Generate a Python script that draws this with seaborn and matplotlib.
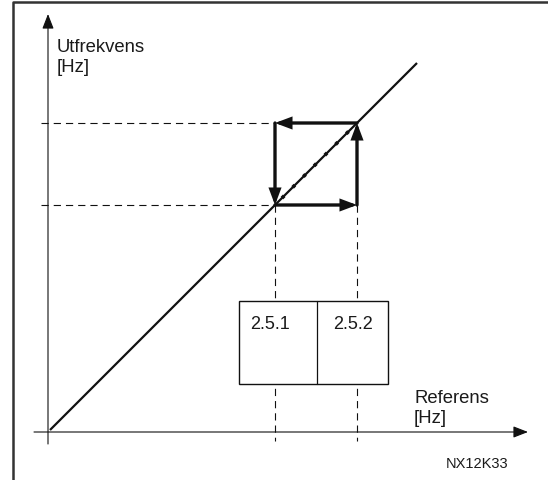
import matplotlib.pyplot as plt
from matplotlib.patches import Rectangle
import pandas as pd
import seaborn as sns

# characteristic: output frequency follows reference (data units, 1 unit = 10 px)
ref_hz = [0.2, 36.9]
out_hz = [0.2, 36.9]

# hysteresis limits (parameters 2.5.1 / 2.5.2)
hyst_low = 22.7
hyst_high = 30.9
param_labels = ["2.5.1", "2.5.2"]

x_label = ["Referens", "[Hz]"]
y_label = ["Utfrekvens", "[Hz]"]
fig_code = "NX12K33"

sns.set_theme(style="white")
plt.rcParams['font.family'] = ['Liberation Sans', 'DejaVu Sans']

fig = plt.figure(figsize=(5.48, 4.81), dpi=100)
ax = fig.add_axes([0, 0, 1, 1])

ink = '#111111'
txt = '#1a1a1a'

# frame round the picture (left and top only)
ax.plot([-3.5, -3.5, 50.0], [-4.8, 43.0, 43.0], color='#333333', lw=1.8,
        clip_on=False, solid_capstyle='butt')

# axes with arrows
ax.annotate('', xy=(0, 41.8), xytext=(0, -1.2),
            arrowprops=dict(arrowstyle='-|>,head_length=0.9,head_width=0.35',
                            mutation_scale=10, lw=0.8, color=ink,
                            shrinkA=0, shrinkB=0))
ax.annotate('', xy=(48.0, 0), xytext=(-1.4, 0),
            arrowprops=dict(arrowstyle='-|>,head_length=0.9,head_width=0.35',
                            mutation_scale=10, lw=0.8, color=ink,
                            shrinkA=0, shrinkB=0))

# dashed guides
dash = (0, (6.5, 4.5))
for v in [hyst_low, hyst_high]:
    ax.plot([-0.7, hyst_low], [v, v], color=ink, lw=0.8, linestyle=dash)
    ax.plot([v, v], [hyst_low, -0.9], color=ink, lw=0.8, linestyle=dash)

# parameter box
box_left, box_right, box_bot, box_top = 19.1, 34.0, 4.8, 13.1
box_mid = 26.9
ax.add_patch(Rectangle((box_left, box_bot), box_right - box_left, box_top - box_bot,
                       facecolor='white', edgecolor=ink, lw=1.0, zorder=3))
ax.plot([box_mid, box_mid], [box_bot, box_top], color=ink, lw=0.9, zorder=4)
ax.text(20.2, 10.4, param_labels[0], fontsize=13, color=txt, va='baseline', zorder=5)
ax.text(28.5, 10.4, param_labels[1], fontsize=13, color=txt, va='baseline', zorder=5)

# characteristic line
df = pd.DataFrame({'ref': ref_hz, 'out': out_hz})
sns.lineplot(data=df, x='ref', y='out', color=ink, lw=1.6, ax=ax,
             solid_capstyle='butt')

# dotted section inside the loop
ax.plot([hyst_low, hyst_high], [hyst_low, hyst_high], color=ink, lw=2.6,
        linestyle=(1.5, (0.9, 3.3)))

# hysteresis loop arrows
loop = [(hyst_high, hyst_high), (hyst_low, hyst_high),
        (hyst_low, hyst_low), (hyst_high, hyst_low), (hyst_high, hyst_high)]
for (x0, y0), (x1, y1) in zip(loop[:-1], loop[1:]):
    ax.annotate('', xy=(x1, y1), xytext=(x0, y0),
                arrowprops=dict(arrowstyle='-|>,head_length=0.8,head_width=0.3',
                                mutation_scale=10, lw=2.4, color=ink,
                                shrinkA=0, shrinkB=0, joinstyle='miter'))

# axis labels
ax.text(0.9, 38.1, y_label[0], fontsize=13.3, color=txt, va='baseline')
ax.text(0.9, 36.1, y_label[1], fontsize=13.3, color=txt, va='baseline')
ax.text(36.6, 3.0, x_label[0], fontsize=13.3, color=txt, va='baseline')
ax.text(36.6, 1.0, x_label[1], fontsize=13.3, color=txt, va='baseline')
ax.text(39.8, -3.5, fig_code, fontsize=10.5, color=txt, va='baseline')

ax.set_xlim(-4.8, 50.0)
ax.set_ylim(-4.8, 43.3)
ax.axis('off')

fig.savefig('out.png', dpi=100)
